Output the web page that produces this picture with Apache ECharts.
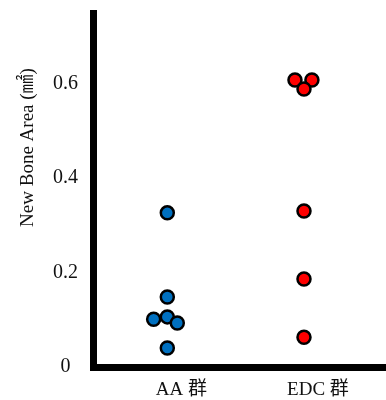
<!DOCTYPE html>
<html>
<head>
<meta charset="utf-8">
<script src="https://cdn.jsdelivr.net/npm/echarts@6/dist/echarts.min.js"></script>
<style>
  html, body { margin: 0; padding: 0; background: #fff; }
  #chart { width: 386px; height: 400px; }
</style>
</head>
<body>
<div id="chart"></div>
<script>
// groups and measured values (mm2)
const groups = ['AA 群', 'EDC 群'];
const aaValues = [0.326, 0.148, 0.101, 0.106, 0.093, 0.040];
const edcValues = [0.607, 0.607, 0.588, 0.330, 0.186, 0.063];
// beeswarm offsets so overlapping points stay visible
const aaJitter = [0, 0, -0.1, 0, 0.073, 0];
const edcJitter = [-0.066, 0.058, 0, 0, 0, 0];
const yTicks = [0, 0.2, 0.4, 0.6];

const serif = '"Liberation Serif", "Noto Sans CJK JP", serif';

const toPoints = (vals, jitter, idx) =>
  vals.map((v, i) => [idx + 1 + jitter[i], v]);

const chart = echarts.init(document.getElementById('chart'));

chart.setOption({
  animation: false,
  grid: { left: 93.5, right: 0, top: 10, bottom: 33 },
  xAxis: {
    type: 'value',
    min: 0.46,
    max: 2.6,
    splitLine: { show: false },
    axisTick: { show: false },
    axisLine: { lineStyle: { color: '#000', width: 7, cap: 'square' } },
    axisLabel: {
      customValues: [1, 2],
      formatter: (v) => groups[Math.round(v) - 1] || '',
      color: '#111',
      fontFamily: serif,
      fontSize: 19,
      margin: 14,
      padding: [0, 0, 0, 28],
    },
  },
  yAxis: {
    type: 'value',
    min: 0,
    max: 0.755,
    name: 'New Bone Area (㎟)',
    nameLocation: 'middle',
    nameGap: 56,
    nameRotate: 90,
    nameTextStyle: {
      color: '#111',
      fontFamily: serif,
      fontSize: 19,
      padding: [0, 0, 0, 82],
    },
    splitLine: { show: false },
    axisTick: { show: false },
    axisLine: { lineStyle: { color: '#000', width: 7, cap: 'butt' } },
    axisLabel: {
      customValues: yTicks,
      formatter: (v) => String(v),
      align: 'center',
      margin: 28,
      color: '#111',
      fontFamily: serif,
      fontSize: 20,
    },
  },
  series: [
    {
      name: groups[0],
      type: 'scatter',
      data: toPoints(aaValues, aaJitter, 0),
      symbolSize: 13,
      itemStyle: { color: '#0070C0', borderColor: '#000', borderWidth: 2.5, opacity: 1 },
    },
    {
      name: groups[1],
      type: 'scatter',
      data: toPoints(edcValues, edcJitter, 1),
      symbolSize: 13,
      itemStyle: { color: '#FF0000', borderColor: '#000', borderWidth: 2.5, opacity: 1 },
    },
  ],
});

window.addEventListener('resize', () => chart.resize());
</script>
</body>
</html>
